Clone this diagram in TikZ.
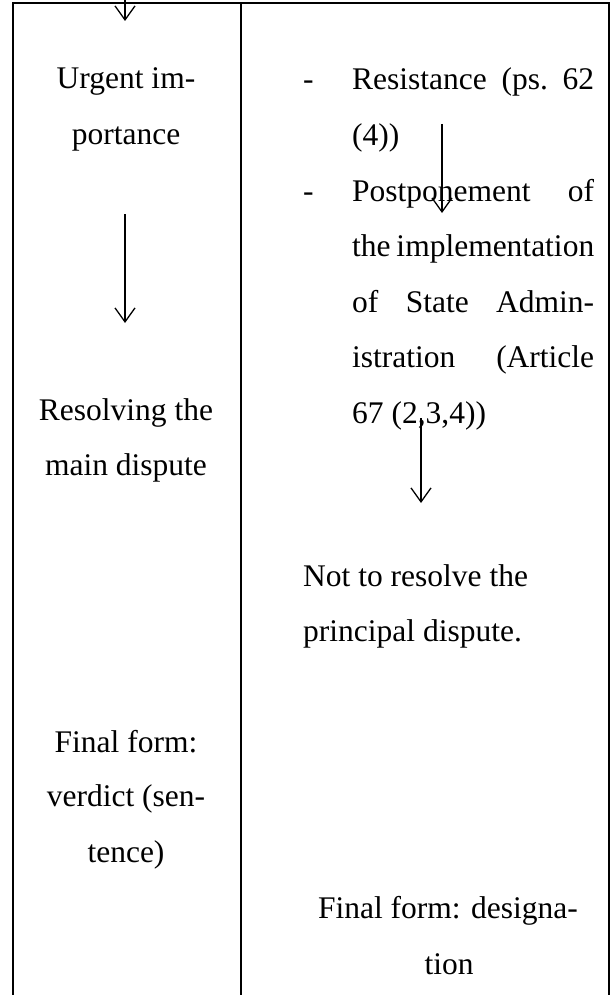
\documentclass[tikz,border=0pt]{standalone}
\usepackage{fontspec}
\setmainfont{Liberation Serif}
\usetikzlibrary{arrows.meta}
\begin{document}
\begin{tikzpicture}[x=1pt,y=-1pt,
  txt/.style={inner sep=0pt, font=\fontsize{31.5}{38}\selectfont, anchor=base},
  txtl/.style={txt, anchor=base west},
  frame/.style={line width=2pt},
  flow/.style={line width=1.3pt, -{Straight Barb[length=14pt,width=20pt]}}]
\useasboundingbox (0,0) rectangle (613,995);
% frame of the table
\draw[frame] (13,1000) -- (13,3) -- (609,3) -- (609,1000);
\draw[frame] (241,3) -- (241,1000);
% left column
\node[txt] (l1) at (126,89) {Urgent im-};
\node[txt] (l2) at (126,145) {portance};
\node[txt] (l3) at (126,420) {Resolving the};
\node[txt] (l4) at (126,475) {main dispute};
\node[txt] (l5) at (126,752) {Final form:};
\node[txt] (l6) at (126,806) {verdict (sen-};
\node[txt] (l7) at (126,862) {tence)};
% right column
\node[txtl] (d1) at (303,90) {-};
\node[txtl] (r1) at (352,90) {\hbox to 242pt{Resistance\hfill(ps.\hfill62}};
\node[txtl] (r2) at (352,145.5) {(4))};
\node[txtl] (d2) at (303,201) {-};
\node[txtl] (r3) at (352,201) {\hbox to 242pt{Postponement\hfill of}};
\node[txtl] (r4) at (352,256.5) {\hbox to 242pt{the\hfill implementation}};
\node[txtl] (r5) at (352,312) {\hbox to 242pt{of\hfill State\hfill Admin-}};
\node[txtl] (r6) at (352,367.5) {\hbox to 242pt{istration\hfill(Article}};
\node[txtl] (r7) at (352,423) {67 (2,3,4))};
\node[txtl] (r8) at (303,586) {Not to resolve the};
\node[txtl] (r9) at (303,641) {principal dispute.};
\node[txt] (r10) at (448,918) {Final form: designa-};
\node[txt] (r11) at (449,974) {tion};
% arrows
\coordinate (a0s) at (125,-3);
\coordinate (a0e) at (125,21);
\coordinate (a1s) at (125,214);
\coordinate (a1e) at (125,323);
\coordinate (a2s) at (442,124);
\coordinate (a2e) at (442,213);
\coordinate (a3s) at (421,418);
\coordinate (a3e) at (421,503);
\draw[flow] (a0s) -- (a0e);
\draw[flow] (a1s) -- (a1e);
\draw[flow] (a2s) -- (a2e);
\draw[flow] (a3s) -- (a3e);
\end{tikzpicture}
\end{document}
